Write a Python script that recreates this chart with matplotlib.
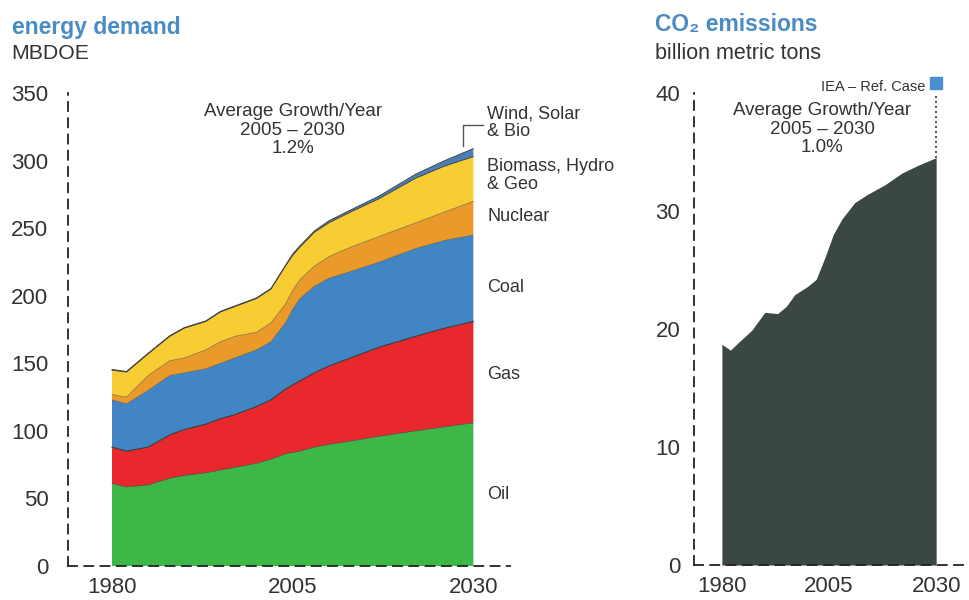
import numpy as np
import matplotlib.pyplot as plt

# --- data ---
years = [1980, 1982, 1985, 1988, 1990, 1993, 1995, 1997, 2000, 2002,
         2004, 2005, 2006, 2008, 2010, 2013, 2017, 2022, 2026, 2030]
oil = [61, 58.5, 60, 65, 67, 69, 71, 73, 76, 79,
       83, 84, 85, 88, 90, 92.5, 96, 100, 103, 106]
gas = [27, 26.5, 28, 32, 34, 36, 38, 39, 42, 44,
       48, 50, 52, 55, 58, 61.5, 66, 70, 73, 75]
coal = [35, 35, 42, 44, 42, 41, 41, 42, 42, 43,
        49, 56, 61, 64, 65, 64, 63, 65, 65, 64]
nuclear = [4, 5, 11, 11, 11, 14, 16, 16, 13, 14,
           14, 14, 14, 15, 16, 18, 19, 19, 21, 25]
biomass = [18, 18.5, 16, 18, 22, 21, 22, 22, 25, 25,
           28, 26, 24, 25, 25, 26, 28, 33, 34, 33]
wind = [0.5, 0.5, 0.5, 0.5, 0.5, 0.5, 0.5, 0.5, 0.5, 0.5,
        0.5, 1, 1, 1, 1.5, 1.5, 2, 3, 4, 6]

co2_years = [1980, 1982, 1984, 1987, 1990, 1993, 1995, 1997, 2000, 2002,
             2004, 2006, 2008, 2011, 2014, 2018, 2022, 2026, 2030]
co2 = [18.7, 18.2, 18.9, 19.9, 21.4, 21.3, 21.9, 22.9, 23.6, 24.2,
       26.0, 28.0, 29.3, 30.7, 31.4, 32.2, 33.2, 33.9, 34.5]

layer_names = ['Oil', 'Gas', 'Coal', 'Nuclear', 'Biomass, Hydro\n& Geo', 'Wind, Solar\n& Bio']
layer_colors = ['#3db848', '#e8282c', '#4185c5', '#e99a2a', '#f8cd33', '#4a7fb6']
label_y = [53, 142, 206, 259, 302, 341]

plt.rcParams['font.family'] = ['Liberation Sans', 'DejaVu Sans']
txt = '#333333'
blue_title = '#4a8bc5'
dash = (0, (5, 4))

fig = plt.figure(figsize=(9.7, 6), dpi=100)

# --- energy demand ---
ax1 = fig.add_axes([0.070, 0.0567, 0.456, 0.788])
ax1.stackplot(years, oil, gas, coal, nuclear, biomass, wind,
              colors=layer_colors, linewidth=0)
# thin dark boundaries as in the print
tops = np.cumsum([oil, gas, coal, nuclear, biomass, wind], axis=0)
for i, lw in ((0, 0.4), (1, 0.8), (2, 0.3), (3, 0.3), (4, 0.6), (5, 0.6)):
    ax1.plot(years, tops[i], color='#3a3a3a', lw=lw)

ax1.set_xlim(1973.9, 2035.1)
ax1.set_ylim(0, 350)
ax1.set_xticks([1980, 2005, 2030])
ax1.set_yticks(range(0, 351, 50))

for name, y in zip(layer_names, label_y):
    va = 'top' if '\n' in name else 'center'
    ax1.text(2031.9, y, name, fontsize=13, color=txt, va=va, ha='left',
             linespacing=1.05, clip_on=False)

# leader line to the thin wind layer
ax1.plot([2028.6, 2028.6, 2031.4], [311, 326.5, 326.5], color='#555555', lw=1,
         clip_on=False)

ax1.text(2005, 342.5, 'Average Growth/Year\n2005 – 2030\n1.2%', ha='center', va='top',
         fontsize=13.5, color=txt, linespacing=1.1)

fig.text(0.012, 0.943, 'energy demand', fontweight='bold',
         fontsize=16.5, color=blue_title)
fig.text(0.012, 0.902, 'MBDOE', fontsize=15.3, color=txt)

# --- CO2 emissions ---
ax2 = fig.add_axes([0.7155, 0.0583, 0.2845, 0.787])
ax2.fill_between(co2_years, co2, color='#3a4742', lw=0)
ax2.set_xlim(1973.5, 2037.9)
ax2.set_ylim(0, 40)
ax2.set_xticks([1980, 2005, 2030])
ax2.set_yticks(range(0, 41, 10))
ax2.plot([co2_years[-1], co2_years[-1]], [co2[-1], 39.7], color='#333333', lw=1.2,
         linestyle=(0, (1.2, 1.8)))
ax2.plot([co2_years[-1]], [40.85], marker='s', markersize=9, color='#4a8fd0', clip_on=False)
ax2.text(2027.5, 40.5, 'IEA – Ref. Case', fontsize=10.5, color=txt, ha='right',
         va='center')
ax2.text(2003.4, 39.2, 'Average Growth/Year\n2005 – 2030\n1.0%', ha='center', va='top',
         fontsize=13.5, color=txt, linespacing=1.1)

fig.text(0.675, 0.948, 'CO₂ emissions', fontweight='bold',
         fontsize=16.5, color=blue_title)
fig.text(0.675, 0.902, 'billion metric tons', fontsize=15.5, color=txt)

for ax, ypad in ((ax1, 14), (ax2, 10)):
    for s in ('top', 'right'):
        ax.spines[s].set_visible(False)
    for s in ('left', 'bottom'):
        ax.spines[s].set_linestyle(dash)
        ax.spines[s].set_linewidth(1.3)
        ax.spines[s].set_color('#222222')
    ax.tick_params(length=0, labelsize=16, colors=txt)
    ax.tick_params(axis='y', pad=ypad)
    ax.tick_params(axis='x', pad=8)
    ax.set_facecolor('none')

fig.savefig('out.png', dpi=100)
